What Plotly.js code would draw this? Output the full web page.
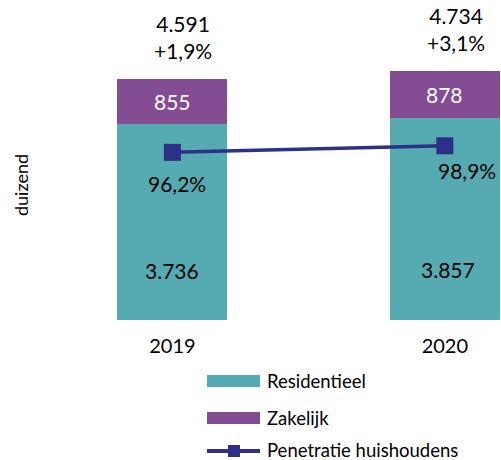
<!DOCTYPE html>
<html>
<head>
<meta charset="utf-8">
<script src="https://cdn.plot.ly/plotly-3.0.1.min.js"></script>
<style>html,body{margin:0;padding:0;background:#fff;}#chart{width:501px;height:460px;}</style>
</head>
<body>
<div id="chart"></div>
<script>
// ---- data ----
const years = ['2019', '2020'];
const residentieel = [3736, 3857];
const zakelijk = [855, 878];
const totaal = [4591, 4734];
const penetratie = [96.2, 98.9];
const groei = ['+1,9%', '+3,1%'];
const seriesNames = ['Residentieel', 'Zakelijk', 'Penetratie huishoudens'];

// ---- style ----
const TEAL = '#55abb1', PURPLE = '#844c93', NAVY = '#2e3087';
const FONT = 'Lato, "Open Sans", sans-serif';
const W = 501, H = 460, ML = 40, MR = 0, MT = 20, MB = 140;
const PW = W - ML - MR, PH = H - MT - MB;
const px = x => (x - ML) / PW;
const py = y => (H - MB - y) / PH;

const nl = v => String(v).replace(/\B(?=(\d{3})+(?!\d))/g, '.');
const pct = v => v.toFixed(1).replace('.', ',') + '%';

const traces = [
  {type: 'bar', name: seriesNames[0], x: years, y: residentieel, marker: {color: TEAL}, width: 0.404, hoverinfo: 'skip', showlegend: false},
  {type: 'bar', name: seriesNames[1], x: years, y: zakelijk, marker: {color: PURPLE}, width: 0.404, hoverinfo: 'skip', showlegend: false},
  {type: 'scatter', mode: 'lines+markers', name: seriesNames[2], x: years, y: penetratie, yaxis: 'y2',
   line: {color: NAVY, width: 3.5}, marker: {symbol: 'square', size: 17, color: NAVY}, showlegend: false}
];

const annotations = [];
const penShift = [[5, -31], [22, -25]];
years.forEach((yr, i) => {
  annotations.push({x: i, y: totaal[i], xref: 'x', yref: 'y', text: nl(totaal[i]) + '<br>' + groei[i],
    showarrow: false, xanchor: 'center', yanchor: 'bottom', xshift: 11, yshift: 14, font: {family: FONT, size: 21, color: '#000'}});
  annotations.push({x: i, y: residentieel[i] + zakelijk[i] / 2, xref: 'x', yref: 'y', text: nl(zakelijk[i]),
    showarrow: false, xanchor: 'center', yanchor: 'middle', font: {family: FONT, size: 21, color: '#fff'}});
  annotations.push({x: i, y: residentieel[i] / 4, xref: 'x', yref: 'y', text: nl(residentieel[i]),
    showarrow: false, xanchor: 'center', yanchor: 'middle', xshift: i ? 3 : 0, font: {family: FONT, size: 21, color: '#000'}});
  annotations.push({x: i, y: penetratie[i], xref: 'x', yref: 'y2', text: pct(penetratie[i]),
    showarrow: false, xanchor: 'center', yanchor: 'middle', xshift: penShift[i][0], yshift: penShift[i][1], font: {family: FONT, size: 21, color: '#000'}});
});
annotations.push({x: px(21), y: py(185), xref: 'paper', yref: 'paper', text: 'duizend', textangle: -90,
  showarrow: false, xanchor: 'center', yanchor: 'middle', font: {family: FONT, size: 18, color: '#000'}});

// manual legend
const legY = [381, 418, 450];
const shapes = [
  {type: 'rect', xref: 'paper', yref: 'paper', x0: px(207), x1: px(260), y0: py(375), y1: py(387), fillcolor: TEAL, line: {width: 0}},
  {type: 'rect', xref: 'paper', yref: 'paper', x0: px(207), x1: px(260), y0: py(412), y1: py(424), fillcolor: PURPLE, line: {width: 0}},
  {type: 'line', xref: 'paper', yref: 'paper', x0: px(207), x1: px(260), y0: py(451), y1: py(451), line: {color: NAVY, width: 4}},
  {type: 'rect', xref: 'paper', yref: 'paper', x0: px(228), x1: px(240), y0: py(445), y1: py(457), fillcolor: NAVY, line: {width: 0}}
];
seriesNames.forEach((n, i) => {
  annotations.push({x: px(265), y: py(legY[i]), xref: 'paper', yref: 'paper', text: n, xanchor: 'left', yanchor: 'middle',
    showarrow: false, font: {family: FONT, size: 18.5, color: '#000'}});
});

const layout = {
  width: W, height: H,
  margin: {l: ML, r: MR, t: MT, b: MB, pad: 0},
  paper_bgcolor: '#fff', plot_bgcolor: '#fff',
  barmode: 'stack',
  showlegend: false,
  font: {family: FONT, color: '#000'},
  xaxis: {type: 'category', range: [-0.486, 1.206], showgrid: false, zeroline: false, showline: false,
    ticks: '', ticklabelstandoff: 12, tickfont: {family: FONT, size: 20, color: '#000'}, fixedrange: true},
  yaxis: {range: [0, 5714], showgrid: false, zeroline: false, showline: false, showticklabels: false, ticks: '', fixedrange: true},
  yaxis2: {overlaying: 'y', side: 'right', range: [27.5, 150.45], showgrid: false, zeroline: false, showline: false,
    showticklabels: false, ticks: '', fixedrange: true},
  annotations: annotations,
  shapes: shapes
};

Plotly.newPlot('chart', traces, layout, {displayModeBar: false, staticPlot: true});
</script>
</body>
</html>
